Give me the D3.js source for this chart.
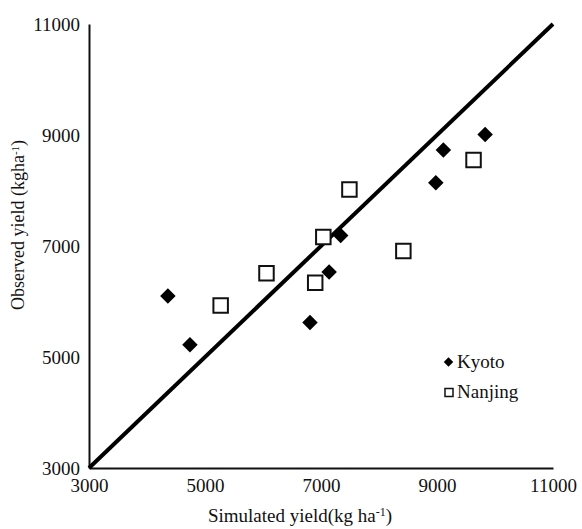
<!DOCTYPE html>
<html>
<head>
<meta charset="utf-8">
<script src="https://cdn.jsdelivr.net/npm/d3@7"></script>
<style>
  html, body { margin: 0; padding: 0; background: #fff; }
  svg { display: block; }
  text { font-family: "Liberation Serif", "DejaVu Serif", serif; fill: #111; }
</style>
</head>
<body>
<svg id="chart" width="582" height="529"></svg>
<script>
// Simulated (x) vs observed (y) grain yield, kg/ha
const kyotoSim = [4360, 4740, 6810, 7140, 7340, 8980, 9110, 9830];
const kyotoObs = [6100, 5220, 5620, 6530, 7190, 8140, 8730, 9010];
const nanjingSim = [5270, 6060, 6900, 7040, 7490, 8420, 9630];
const nanjingObs = [5930, 6510, 6340, 7160, 8020, 6910, 8550];
const tickValues = [3000, 5000, 7000, 9000, 11000];
const domain = [3000, 11000];

const svg = d3.select("#chart");
const x = d3.scaleLinear().domain(domain).range([89, 553]);
const y = d3.scaleLinear().domain(domain).range([468, 24]);

// axes without tick marks, labels only
const xAxis = d3.axisBottom(x).tickValues(tickValues).tickSize(0).tickPadding(11).tickFormat(d3.format("d"));
const yAxis = d3.axisLeft(y).tickValues(tickValues).tickSize(0).tickPadding(9).tickFormat(d3.format("d"));

const gx = svg.append("g").attr("transform", `translate(0,${y(3000)})`).call(xAxis);
const gy = svg.append("g").attr("transform", `translate(${x(3000)},0)`).call(yAxis);
[gx, gy].forEach(g => {
  g.select(".domain").attr("stroke", "#111").attr("stroke-width", 2);
  g.selectAll("text").style("font-family", "Liberation Serif, serif").style("font-size", "19px").attr("fill", "#111");
});
gy.selectAll("text").attr("dy", "0.34em");

// 1:1 line
svg.append("line")
  .attr("x1", x(domain[0])).attr("y1", y(domain[0]))
  .attr("x2", x(domain[1])).attr("y2", y(domain[1]))
  .attr("stroke", "#000").attr("stroke-width", 4);

const diamond = d3.symbol().type(d3.symbolSquare).size(120);
const square = d3.symbol().type(d3.symbolSquare).size(210);

// Kyoto: filled diamonds
svg.append("g").selectAll("path")
  .data(kyotoSim.map((s, i) => [s, kyotoObs[i]]))
  .join("path")
  .attr("d", diamond)
  .attr("transform", d => `translate(${x(d[0])},${y(d[1])}) rotate(45)`)
  .attr("fill", "#000");

// Nanjing: open squares
svg.append("g").selectAll("path")
  .data(nanjingSim.map((s, i) => [s, nanjingObs[i]]))
  .join("path")
  .attr("d", square)
  .attr("transform", d => `translate(${x(d[0])},${y(d[1])})`)
  .attr("fill", "#fff").attr("stroke", "#111").attr("stroke-width", 2);

// legend
const legend = svg.append("g");
legend.append("path").attr("d", d3.symbol().type(d3.symbolSquare).size(45))
  .attr("transform", "translate(448.5,362) rotate(45)").attr("fill", "#000");
legend.append("text").attr("x", 457).attr("y", 368).style("font-size", "19px").text("Kyoto");
legend.append("rect").attr("x", 445).attr("y", 388.5).attr("width", 8).attr("height", 8)
  .attr("fill", "#fff").attr("stroke", "#111").attr("stroke-width", 1.5);
legend.append("text").attr("x", 457).attr("y", 398).style("font-size", "19px").text("Nanjing");

// axis titles
const xt = svg.append("text").attr("x", 300).attr("y", 522).attr("text-anchor", "middle").style("font-size", "19px");
xt.append("tspan").text("Simulated yield(kg ha");
xt.append("tspan").attr("dy", -6).style("font-size", "12px").text("-1");
xt.append("tspan").attr("dy", 6).text(")");

const yt = svg.append("text").attr("transform", "translate(24,225) rotate(-90)").attr("text-anchor", "middle")
  .style("font-size", "18px");
yt.append("tspan").text("Observed yield (kgha");
yt.append("tspan").attr("dy", -5).style("font-size", "11px").text("-1");
yt.append("tspan").attr("dy", 5).text(")");
</script>
</body>
</html>
